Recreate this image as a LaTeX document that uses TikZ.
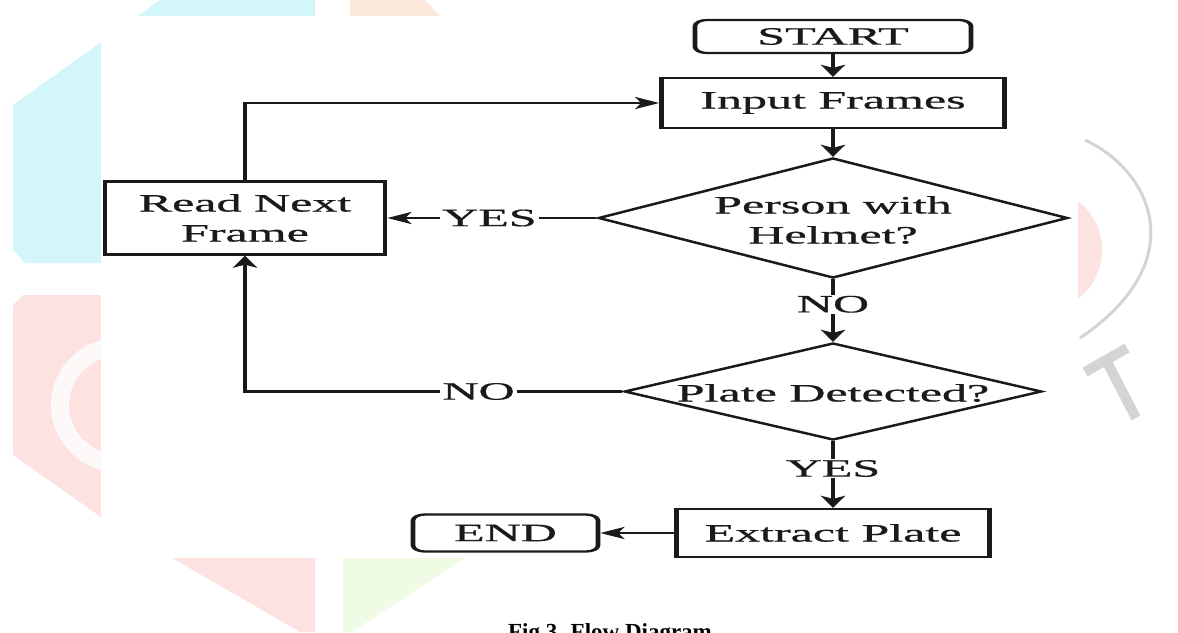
\documentclass[tikz,border=0pt]{standalone}
\usepackage{fontspec}
\setmainfont{Liberation Serif}
\newfontfamily\flowfam[FakeBold=0.6]{Liberation Serif}
\usetikzlibrary{arrows.meta,shapes.geometric,calc}
\definecolor{ink}{HTML}{1A1A1A}
\definecolor{wmcyan}{HTML}{D2F6FA}
\definecolor{wmpeach}{HTML}{FDE9DC}
\definecolor{wmpink}{HTML}{FDE2E2}
\definecolor{wmgreen}{HTML}{EFFBE4}
\definecolor{wmgray}{HTML}{D4D4D4}
\newcommand{\flowfont}{\flowfam\fontsize{25}{30}\selectfont}
\tikzset{
  box/.style={draw=ink, line width=2.3pt, fill=white, inner sep=0pt, font=\flowfont, text=ink, align=center},
  term/.style={box, rounded corners=6pt},
  dia/.style={draw=ink, line width=2.3pt, shape=diamond, inner sep=0pt, fill=white},
  diatext/.style={font=\flowfont, text=ink, align=center, inner sep=0pt},
  flow/.style={draw=ink, line width=2.3pt, -{Stealth[length=12pt,width=12pt,inset=3pt]}},
  lab/.style={fill=white, inner sep=1.2pt, font=\flowfont, text=ink},
}
\begin{document}
\begin{tikzpicture}[x=1pt,y=-1pt]
\useasboundingbox (0,0) rectangle (1178,632);
% faint watermark outside the figure panel
\fill[wmcyan] (13,105) -- (160,0) -- (315,0) -- (315,263) -- (25,263) -- (13,250) -- cycle;
\fill[wmpeach] (350,0) -- (425,0) -- (440,16) -- (350,16) -- cycle;
\fill[wmpink] (23,295) -- (315,295) -- (315,560) -- (101,517) -- (13,455) -- (13,305) -- cycle;
\draw[white, line width=18pt, opacity=0.8] (118,405) circle (58pt);
\fill[wmpink] (172,558) -- (315,558) -- (315,632) -- (300,632) -- cycle;
\fill[wmgreen] (343,558) -- (465,558) -- (352,632) -- (343,632) -- cycle;
\fill[wmpink] (1040,250) circle (62pt);
\draw[wmgray, line width=3pt] (1085,140) .. controls (1150,170) and (1195,260) .. (1080,338);
\draw[wmgray, line width=10pt] (1085,372) -- (1127,348);
\draw[wmgray, line width=10pt] (1106,360) -- (1136,418);
\fill[white] (101,16) rectangle (1078,558);
% caption
\node[font=\bfseries\fontsize{23}{27}\selectfont, anchor=base, text=black] (cap) at (610,639) {Fig 3. Flow Diagram};
% the flow diagram (horizontally stretched like the reference)
\begin{scope}[transform canvas={xscale=2}]
\node[term, minimum width=138pt, minimum height=33pt] (start) at (416.5,36.5) {START};
\node[box, minimum width=171.5pt, minimum height=50pt] (inp) at (416.5,103) {Input Frames};
\node[dia, minimum width=235pt, minimum height=120pt] (d1) at (416.5,218) {};
\node[diatext] (d1t) at (416.5,220) {Person with\\Helmet?};
\node[dia, minimum width=209pt, minimum height=97pt] (d2) at (416.5,391.5) {};
\node[diatext] (d2t) at (416.5,393) {Plate Detected?};
\node[box, minimum width=156.5pt, minimum height=48pt] (ext) at (416.5,533) {Extract Plate};
\node[term, minimum width=92.5pt, minimum height=37pt] (end) at (252.75,533) {END};
\node[box, minimum width=140pt, minimum height=73pt] (rnf) at (122.5,218) {Read Next\\Frame};
\draw[flow] (start) -- (inp);
\draw[flow] (inp) -- (d1);
\draw[flow] (d1) -- node[lab, pos=0.51] (yes1) {YES} (rnf);
\draw[flow] (d1) -- node[lab, pos=0.4] (no1) {NO} (d2);
\draw[flow] (d2) -- node[lab, pos=0.41] (yes2) {YES} (ext);
\draw[flow] (ext) -- (end);
\draw[flow] (d2.west) -- node[lab, pos=0.38] (no2) {NO} (d2.west -| rnf.south) -- (rnf.south);
\draw[flow] (rnf.north) |- (inp.west);
\end{scope}
\end{tikzpicture}
\end{document}
